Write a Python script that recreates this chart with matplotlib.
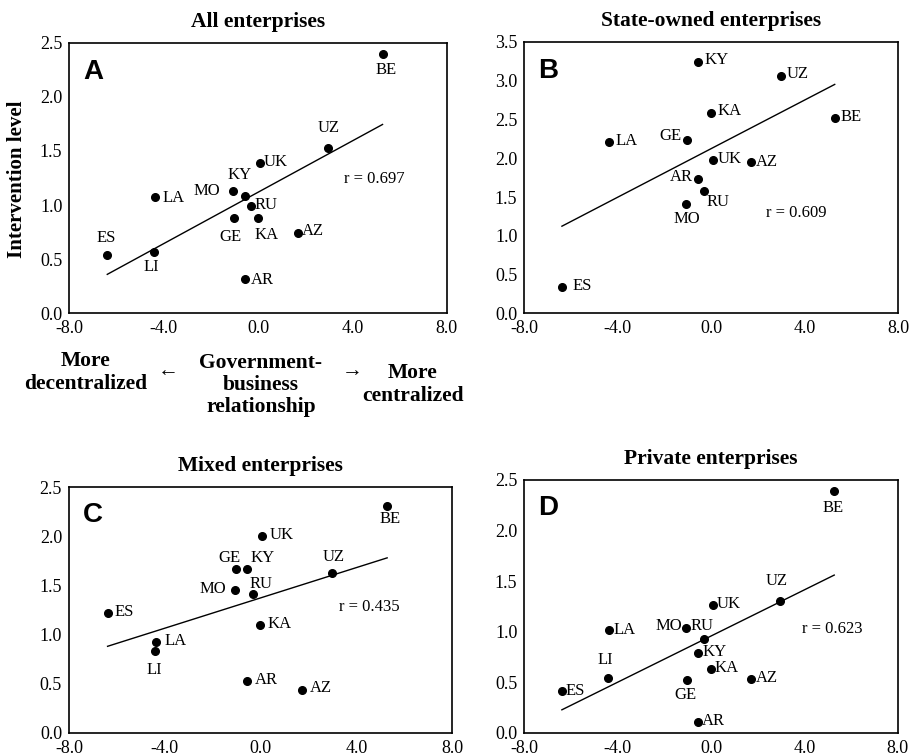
import matplotlib
matplotlib.use("Agg")
import matplotlib.pyplot as plt
from matplotlib.ticker import FormatStrFormatter
import numpy as np

plt.rcParams["font.family"] = ["Liberation Serif", "DejaVu Sans"]
plt.rcParams["axes.unicode_minus"] = False

countries = ["BE", "UZ", "UK", "MO", "KY", "RU", "LA", "GE", "KA", "AZ", "ES", "LI", "AR"]
# government-business relationship score, shared by all four panels
gov_business = [5.28, 2.97, 0.07, -1.07, -0.55, -0.30, -4.36, -1.02, -0.02, 1.71, -6.39, -4.41, -0.55]

# intervention level by enterprise type (nan = no data)
all_level = [2.40, 1.525, 1.39, 1.13, 1.084, 0.995, 1.07, 0.878, 0.878, 0.74, 0.536, 0.564, 0.32]
state_level = [2.524, 3.057, 1.978, 1.41, 3.24, 1.582, 2.21, 2.23, 2.59, 1.948, 0.335, np.nan, 1.737]
mixed_level = [2.313, 1.630, 2.004, 1.454, 1.668, 1.41, 0.927, 1.668, 1.097, 0.44, 1.219, 0.832, 0.526]
private_level = [2.388, 1.303, 1.263, 1.032, 0.788, 0.923, 1.013, 0.521, 0.630, 0.528, 0.409, 0.538, 0.109]

titles = ["All enterprises", "State-owned enterprises", "Mixed enterprises", "Private enterprises"]
letters = ["A", "B", "C", "D"]
r_values = ["0.697", "0.609", "0.435", "0.623"]
y_max = [2.5, 3.5, 2.5, 2.5]

W, H = 915, 756

# axes boxes in pixels: left, top, right, bottom
boxes = [
    (69.3, 42.7, 446.7, 313.3),
    (524.3, 42.0, 898.3, 313.3),
    (69.0, 487.3, 452.3, 732.7),
    (524.3, 480.0, 897.7, 732.7),
]

# label offsets (pixels) from each dot to the centre of its text
label_offsets = [
    {"BE": (4, -16), "UZ": (1, 20), "UK": (16, 1), "KY": (-5, 21), "MO": (-26, 0),
     "RU": (15, 1), "LA": (18, -1), "GE": (-4, -19), "KA": (9, -17), "AZ": (15, 2),
     "ES": (-1, 17), "LI": (-3, -15), "AR": (17, -1)},
    {"BE": (16, 1), "UZ": (17, 2), "UK": (17, 1), "MO": (1, -15), "KY": (18, 2),
     "RU": (14, -11), "LA": (17, 1), "GE": (-17, 4), "KA": (19, 2), "AZ": (16, 0),
     "ES": (20, 1), "AR": (-17, 2)},
    {"BE": (3, -13), "UZ": (2, 16), "UK": (19, 1), "MO": (-22, 1), "KY": (15, 11),
     "RU": (8, 10), "LA": (19, 1), "GE": (-7, 11), "KA": (19, 1), "AZ": (19, 2),
     "ES": (17, 1), "LI": (-1, -19), "AR": (19, 1)},
    {"BE": (-1, -17), "UZ": (-4, 20), "UK": (16, 1), "MO": (-17, 2), "KY": (16, 1),
     "RU": (-2, 13), "LA": (15, 0), "GE": (-2, -15), "KA": (16, 1), "AZ": (16, 1),
     "ES": (13, 0), "LI": (-3, 18), "AR": (15, 1)},
]
r_pos = [(4.95, 1.24), (3.65, 1.30), (4.52, 1.277), (5.21, 1.03)]

levels = [all_level, state_level, mixed_level, private_level]

fig = plt.figure(figsize=(W / 100, H / 100), dpi=100)
x_all = np.array(gov_business)

for i in range(4):
    l, t, r, b = boxes[i]
    ax = fig.add_axes([l / W, 1 - b / H, (r - l) / W, (b - t) / H])
    y = np.array(levels[i], dtype=float)
    ok = ~np.isnan(y)
    x = x_all[ok]
    yy = y[ok]

    ax.plot(x, yy, "o", color="black", ms=5.5, zorder=3)
    slope, icpt = np.polyfit(x, yy, 1)
    xs = np.array([x.min(), x.max()])
    ax.plot(xs, slope * xs + icpt, color="black", lw=1.0)

    for name, xv, yv in zip(np.array(countries)[ok], x, yy):
        dx, dy = label_offsets[i][name]
        ax.annotate(name, (xv, yv), xytext=(dx, dy), textcoords="offset pixels",
                    ha="center", va="center", fontsize=12)

    ax.text(r_pos[i][0], r_pos[i][1], "r = " + r_values[i], ha="center", va="center",
            fontsize=12)
    ax.text(0.037, 0.94, letters[i], transform=ax.transAxes, ha="left", va="top",
            fontsize=20, fontweight="bold", family="Liberation Sans")

    ax.set_xlim(-8, 8)
    ax.set_ylim(0, y_max[i])
    ax.set_xticks([-8, -4, 0, 4, 8])
    ax.set_yticks(np.arange(0, y_max[i] + 0.01, 0.5))
    ax.xaxis.set_major_formatter(FormatStrFormatter("%.1f"))
    ax.yaxis.set_major_formatter(FormatStrFormatter("%.1f"))
    ax.tick_params(length=0, labelsize=13)
    ax.tick_params(axis="x", pad=5)
    ax.tick_params(axis="y", pad=5)
    for sp in ax.spines.values():
        sp.set_linewidth(1.2)
    ax.set_title(titles[i], fontsize=15.5, fontweight="bold", pad=11.5)

# shared axis descriptions around panel A
fig.text(17 / W, 1 - 179 / H, "Intervention level", rotation=90, ha="center", va="center",
         fontsize=15, fontweight="bold")
fig.text(86 / W, 1 - 372.5 / H, "More\ndecentralized", ha="center", va="center",
         fontsize=15.5, fontweight="bold", linespacing=1.15)
fig.text(168 / W, 1 - 372 / H, "\u2190", ha="center", va="center", fontsize=15)
fig.text(261 / W, 1 - 385 / H, "Government-\nbusiness\nrelationship", ha="center",
         va="center", fontsize=15.5, fontweight="bold", linespacing=1.15)
fig.text(352 / W, 1 - 372 / H, "\u2192", ha="center", va="center", fontsize=15)
fig.text(413 / W, 1 - 384.5 / H, "More\ncentralized", ha="center", va="center",
         fontsize=15.5, fontweight="bold", linespacing=1.15)

fig.savefig("out.png", dpi=100)
